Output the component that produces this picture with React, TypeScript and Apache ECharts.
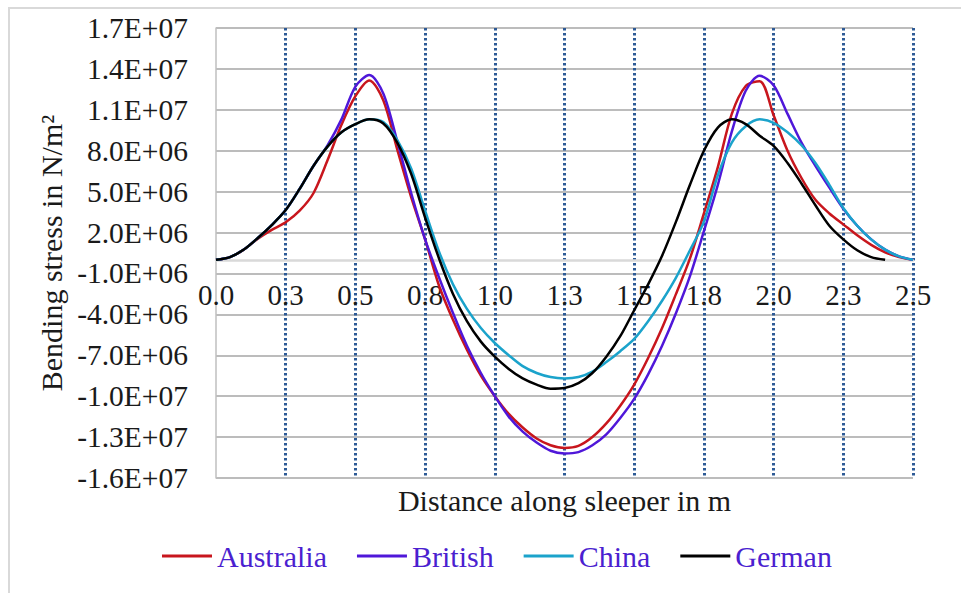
import React, { useEffect, useRef } from "react";
import * as echarts from "echarts";

// Distance along sleeper (m)
const distance: number[] = [
  0, 0.05, 0.1, 0.15, 0.2, 0.25, 0.3, 0.35, 0.4, 0.45,
  0.5, 0.55, 0.6, 0.65, 0.7, 0.75, 0.8, 0.85, 0.9, 0.95,
  1.0, 1.05, 1.1, 1.15, 1.2, 1.25, 1.3, 1.35, 1.4, 1.45,
  1.5, 1.55, 1.6, 1.65, 1.7, 1.75, 1.8, 1.85, 1.9, 1.95,
  2.0, 2.05, 2.1, 2.15, 2.2, 2.25, 2.3, 2.35, 2.4, 2.45, 2.5,
];

// Bending stress, in millions of N/m² (×1E+06)
const australia: (number | null)[] = [
  0, 0.2, 0.75, 1.55, 2.2, 2.75, 3.6, 4.9, 7.3, 9.9,
  12.0, 13.15, 11.7, 8.1, 4.6, 1.5, -1.9, -4.4, -6.6, -8.5,
  -10.0, -11.3, -12.3, -13.1, -13.6, -13.8, -13.65, -13.0, -12.0, -10.7,
  -9.15, -7.2, -5.0, -2.5, 0.1, 3.4, 6.8, 10.7, 12.75, 13.1,
  10.6, 8.0, 6.0, 4.4, 3.4, 2.6, 1.8, 1.1, 0.55, 0.2, 0,
];
const british: (number | null)[] = [
  0, 0.2, 0.75, 1.6, 2.55, 3.65, 5.2, 6.9, 8.4, 10.3,
  12.7, 13.55, 12.2, 8.7, 4.9, 1.5, -1.3, -3.9, -6.3, -8.3,
  -10.0, -11.5, -12.6, -13.4, -14.0, -14.2, -14.1, -13.6, -12.8, -11.6,
  -10.2, -8.4, -6.3, -3.9, -1.2, 2.1, 5.5, 9.4, 12.4, 13.5,
  12.8, 10.7, 8.6, 6.9, 5.3, 3.75, 2.5, 1.5, 0.75, 0.25, 0,
];
const china: (number | null)[] = [
  0, 0.2, 0.75, 1.6, 2.55, 3.65, 5.2, 6.9, 8.3, 9.35,
  9.95, 10.3, 10.1, 8.8, 6.7, 3.6, 0.6, -1.8, -3.6, -5.0,
  -6.1, -7.0, -7.8, -8.3, -8.6, -8.7, -8.6, -8.2, -7.5, -6.7,
  -5.8, -4.5, -3.0, -1.3, 0.7, 2.8, 6.2, 8.6, 9.8, 10.3,
  10.05, 9.35, 8.4, 7.1, 5.5, 3.8, 2.5, 1.5, 0.75, 0.25, 0,
];
const german: (number | null)[] = [
  0, 0.2, 0.75, 1.6, 2.55, 3.65, 5.2, 6.9, 8.3, 9.35,
  9.95, 10.3, 10.0, 8.6, 6.3, 3.1, 0.1, -2.5, -4.5, -6.0,
  -7.1, -8.0, -8.7, -9.15, -9.45, -9.4, -9.05, -8.3, -7.1, -5.6,
  -3.7, -1.8, 0.3, 2.8, 5.5, 8.0, 9.7, 10.3, 9.95, 9.1,
  8.35, 7.1, 5.6, 4.0, 2.5, 1.5, 0.7, 0.2, 0, null, null,
];

const seriesNames = ["Australia", "British", "China", "German"];
const seriesValues = [australia, british, china, german];
const seriesColors = ["#c8161d", "#4f17d9", "#1ba3cb", "#000000"];

// Y tick values (N/m²) and x tick step (m)
const yTicks: number[] = [
  -16e6, -13e6, -10e6, -7e6, -4e6, -1e6, 2e6, 5e6, 8e6, 11e6, 14e6, 17e6,
];
const yMin = -16e6;
const yMax = 17e6;
const xStep = 0.25;
const UNIT = 1e6;

const FONT = "'Times New Roman', 'Liberation Serif', serif";

// grid layout
const GRID_TOP = 28;
const GRID_BOTTOM = 115;
const CHART_H = 593;
const GRID_H = CHART_H - GRID_TOP - GRID_BOTTOM;

function sci(v: number): string {
  const r = Math.round(v / 1e5) * 1e5;
  const [m, e] = r.toExponential(1).split("e");
  const sign = e[0] === "-" ? "-" : "+";
  const digits = e.replace(/^[+-]/, "").padStart(2, "0");
  return `${m}E${sign}${digits}`;
}

export default function App() {
  const ref = useRef<HTMLDivElement>(null);

  useEffect(() => {
    document.body.style.margin = "0";
    if (!ref.current) return;
    const chart = echarts.init(ref.current, undefined, { renderer: "svg" });

    const series = seriesNames.map((name, k) => ({
      name,
      type: "line",
      smooth: 0.3,
      symbol: "none",
      showSymbol: false,
      lineStyle: { color: seriesColors[k], width: 2.5 },
      itemStyle: { color: seriesColors[k] },
      data: distance
        .map((d, i) => [d, seriesValues[k][i]])
        .filter((p) => p[1] !== null)
        .map((p) => [p[0] as number, (p[1] as number) * UNIT]),
    }));

    // x axis sits on the zero line: shift it up from the grid bottom
    const zeroOffset = -GRID_H * ((0 - yMin) / (yMax - yMin));

    chart.setOption({
      animation: false,
      backgroundColor: "#ffffff",
      textStyle: { fontFamily: FONT },
      graphic: [
        {
          type: "rect",
          silent: true,
          shape: { x: 9, y: 8, width: 1000, height: 1000 },
          style: { fill: "none", stroke: "#d9d9d9", lineWidth: 2 },
        },
      ],
      grid: {
        left: 216,
        top: GRID_TOP,
        right: 48,
        bottom: GRID_BOTTOM,
        containLabel: false,
        outerBoundsMode: "none",
      },
      legend: {
        left: 162,
        top: 541,
        padding: 0,
        itemGap: 30,
        itemWidth: 50,
        itemHeight: 3,
        icon: "rect",
        data: seriesNames,
        textStyle: { fontSize: 30, color: "#4b1fd0", fontFamily: FONT },
      },
      xAxis: {
        type: "value",
        min: 0,
        max: 2.5,
        interval: xStep,
        offset: zeroOffset,
        name: "Distance along sleeper in m",
        nameLocation: "middle",
        nameGap: 226,
        nameTextStyle: { fontSize: 30, color: "#1a1a1a", fontFamily: FONT },
        axisLine: { onZero: false, lineStyle: { color: "#d9d9d9", width: 2.5 } },
        axisTick: { show: false },
        axisLabel: {
          formatter: (v: number) => v.toFixed(1),
          margin: 21,
          fontSize: 29,
          color: "#1a1a1a",
          fontFamily: FONT,
        },
        splitLine: {
          show: true,
          showMinLine: false,
          lineStyle: { type: [2.5, 2.5], color: "#2d5a96", width: 3 },
        },
      },
      yAxis: {
        type: "value",
        min: yMin - 1000,
        max: yMax + 1000,
        name: "Bending stress in N/m²",
        nameLocation: "middle",
        nameGap: 150,
        nameTextStyle: { fontSize: 30, color: "#1a1a1a", fontFamily: FONT },
        axisLine: { show: true, onZero: false, lineStyle: { color: "#bfbfbf", width: 1.5 } },
        axisTick: { show: false, customValues: yTicks },
        axisLabel: {
          customValues: yTicks,
          formatter: (v: number) => sci(v),
          margin: 28,
          fontSize: 29.5,
          color: "#1a1a1a",
          fontFamily: FONT,
          showMinLabel: true,
          showMaxLabel: true,
        },
        splitLine: { show: true, lineStyle: { color: "#a6a6a6", width: 1.5 } },
      },
      series,
    });

    return () => chart.dispose();
  }, []);

  return <div ref={ref} style={{ width: 961, height: 593 }} />;
}
